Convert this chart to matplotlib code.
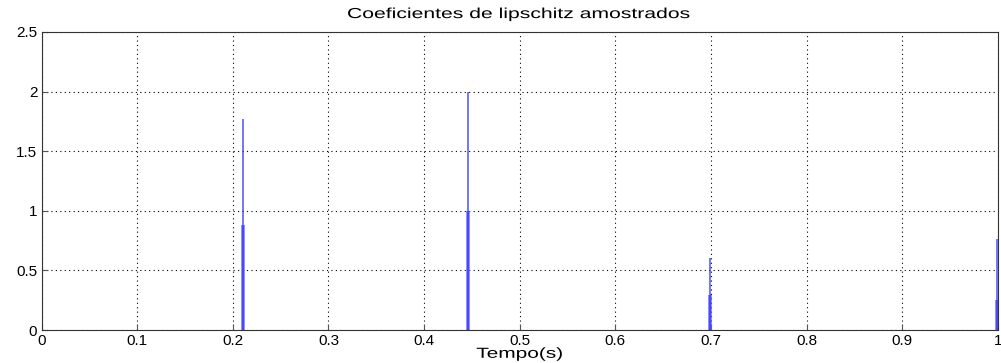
import matplotlib
matplotlib.use('Agg')
import matplotlib.pyplot as plt
from matplotlib.patheffects import AbstractPathEffect
from matplotlib.transforms import Affine2D

# sampled lipschitz coefficients (time in s, value)
t_tall = [0.0, 0.2103, 0.4462, 0.6994, 0.9985]
v_tall = [0.32, 1.77, 2.00, 0.60, 0.76]
t_low = [0.2103, 0.4462, 0.6994, 0.9985]
v_low = [0.88, 1.00, 0.29, 0.25]

xticks = [0, 0.1, 0.2, 0.3, 0.4, 0.5, 0.6, 0.7, 0.8, 0.9, 1]
yticks = [0, 0.5, 1, 1.5, 2, 2.5]


class Widen(AbstractPathEffect):
    """Stretch text glyphs horizontally about their centre."""

    def __init__(self, sx):
        super().__init__()
        self.sx = sx

    def draw_path(self, renderer, gc, tpath, affine, rgbFace=None):
        ext = tpath.get_extents()
        cx = 0.5 * (ext.x0 + ext.x1)
        tr = Affine2D().translate(-cx, 0).scale(self.sx, 1).translate(cx, 0) + affine
        renderer.draw_path(gc, tpath, tr, rgbFace)


plt.rcParams['font.family'] = ['Liberation Sans', 'DejaVu Sans']

fig = plt.figure(figsize=(10.01, 3.63), dpi=100)
ax = fig.add_axes([0.0415, 0.0909, 0.9555, 0.821])

ax.vlines(t_low, 0, v_low, colors='#6060ff', linewidth=2.6, alpha=0.85)
ax.vlines(t_tall, 0, v_tall, colors='#3030ff', linewidth=1.1, alpha=0.85)

ax.set_xlim(0, 1)
ax.set_ylim(0, 2.5)
ax.set_xticks(xticks)
ax.set_xticklabels(['0', '0.1', '0.2', '0.3', '0.4', '0.5', '0.6', '0.7', '0.8', '0.9', '1'])
ax.set_yticks(yticks)
ax.set_yticklabels(['0', '0.5', '1', '1.5', '2', '2.5'])
ax.tick_params(direction='in', length=4, labelsize=11, color='#555555')
ax.tick_params(axis='x', pad=3)
ax.tick_params(axis='y', pad=3)
ax.grid(True, linestyle=(0, (1, 3)), color='black', linewidth=0.8)
for s in ax.spines.values():
    s.set_linewidth(0.8)
    s.set_color('#333333')

ttl = ax.set_title('Coeficientes de lipschitz amostrados', fontsize=10.5, pad=10)
ttl.set_path_effects([Widen(1.45)])
xl = ax.set_xlabel('Tempo(s)', fontsize=10.5, labelpad=-1)
xl.set_path_effects([Widen(1.43)])

fig.savefig('out.png', dpi=100)
